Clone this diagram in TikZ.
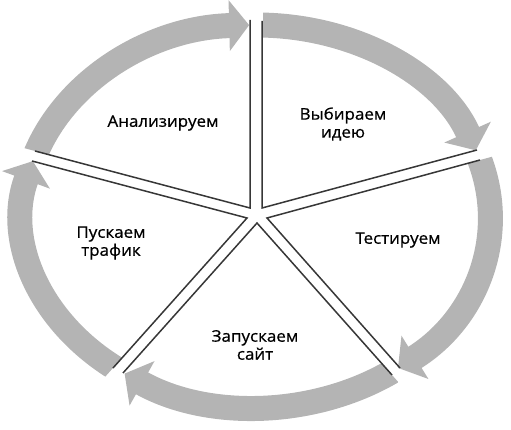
\documentclass[tikz,border=0pt]{standalone}
\usepackage{fontspec}
\setmainfont{Open Sans}[FakeStretch=1.06,FakeBold=0.6]
\usetikzlibrary{arrows.meta}
\definecolor{bandgray}{RGB}{180,180,180}
\definecolor{edgegray}{RGB}{55,55,55}
\begin{document}
\begin{tikzpicture}[x=1pt,y=-1pt,
  bandarrow/.style={draw=bandgray, line width=25pt, -{Triangle[width=50pt,length=20pt]}},
  gapedge/.style={draw=edgegray, line width=1.5pt, line join=miter},
  lbl/.style={font=\fontsize{16}{18}\selectfont, align=center, text=black, inner sep=0pt}]
\useasboundingbox (0,0) rectangle (511,430);
\coordinate (E) at (256.5,216);
% band 1: top -> upper right
\begin{scope}
\clip (263,-50) rectangle (600,480);
\draw[bandarrow, shift={(E)}] (-92:233.5 and 191) arc[start angle=-92, end angle=-20.1, x radius=233.5, y radius=191];
\end{scope}
% band 2: upper right -> lower right
\begin{scope}
\clip (54,276) -- (693,102) -- (693,600) -- (54,600) -- cycle;
\draw[bandarrow, shift={(E)}] (-22:233.5 and 191) arc[start angle=-22, end angle=52.7, x radius=233.5, y radius=191];
\end{scope}
% band 3: lower right -> lower left
\begin{scope}
\clip (-13,-81) -- (527,527) -- (-200,527) -- (-200,-81) -- cycle;
\draw[bandarrow, shift={(E)}] (50:233.5 and 191) arc[start angle=50, end angle=124.4, x radius=233.5, y radius=191];
\end{scope}
% band 4: lower left -> upper left
\begin{scope}
\clip (515,-82) -- (-21,518) -- (-300,518) -- (-300,-82) -- cycle;
\draw[bandarrow, shift={(E)}] (122:233.5 and 191) arc[start angle=122, end angle=196.7, x radius=233.5, y radius=191];
\end{scope}
% band 5: upper left -> top
\begin{scope}
\clip (465,265) -- (-180,94) -- (-180,-200) -- (465,-200) -- cycle;
\draw[bandarrow, shift={(E)}] (194:233.5 and 191) arc[start angle=194, end angle=268.2, x radius=233.5, y radius=191];
\end{scope}
% sector edges
\coordinate (ca) at (250,208);
\coordinate (cb) at (262,208);
\coordinate (cc) at (267,218);
\coordinate (cd) at (257,223);
\coordinate (ce) at (247,218);
\draw[gapedge] (35,151) -- (ca) -- (250,20);
\draw[gapedge] (262,21) -- (cb) -- (477,150);
\draw[gapedge] (480,160) -- (cc) -- (400,368);
\draw[gapedge] (392,375) -- (cd) -- (123,373);
\draw[gapedge] (113,368) -- (ce) -- (32,161);
% labels
\node[lbl] (t1) at (163,123) {Анализируем};
\node[lbl] (t2) at (343,124) {Выбираем\\идею};
\node[lbl] (t3) at (398,240) {Тестируем};
\node[lbl] (t4) at (111,243) {Пускаем\\трафик};
\node[lbl] (t5) at (255,345) {Запускаем\\сайт};
\end{tikzpicture}
\end{document}
